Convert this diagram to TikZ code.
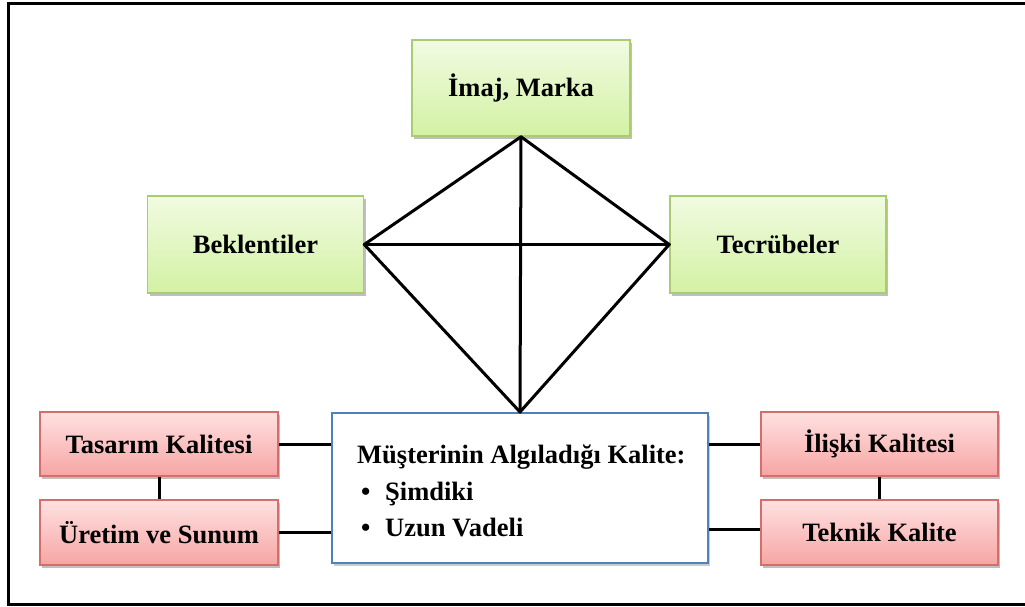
\documentclass[tikz,border=0pt]{standalone}
\usepackage{fontspec}
\setmainfont{Liberation Serif}
\usetikzlibrary{shadows}
\definecolor{greentop}{HTML}{F1FBE2}
\definecolor{greenbot}{HTML}{D3F1A3}
\definecolor{greenedge}{HTML}{A9CC72}
\definecolor{redtop}{HTML}{FFE1E1}
\definecolor{redbot}{HTML}{F6A5A4}
\definecolor{rededge}{HTML}{D26E6B}
\definecolor{blueedge}{HTML}{4F81BD}
\tikzset{
  boxtext/.style={font=\bfseries\fontsize{26.5}{30}\selectfont},
  greenbox/.style={boxtext, draw=greenedge, line width=1.5pt,
    top color=greentop, bottom color=greenbot,
    drop shadow={shadow xshift=2pt, shadow yshift=-3pt, opacity=0.25, fill=black}},
  redbox/.style={boxtext, draw=rededge, line width=1.5pt,
    top color=redtop, bottom color=redbot,
    drop shadow={shadow xshift=2pt, shadow yshift=-3pt, opacity=0.25, fill=black}},
  mainbox/.style={draw=blueedge, line width=2pt, fill=white,
    drop shadow={shadow xshift=2pt, shadow yshift=-3pt, opacity=0.2, fill=black}},
  link/.style={line width=3pt, line cap=round, line join=round},
}
\begin{document}
\begin{tikzpicture}[x=1pt, y=-1pt]
  \useasboundingbox (0,0) rectangle (1025,607);
  % outer frame, open on the right
  \draw[line width=3pt] (1040,4) -- (8,4) -- (8,604) -- (1040,604);

  % upper diamond nodes
  \node[greenbox, minimum width=218pt, minimum height=96pt] (imaj) at (521,88) {İmaj, Marka};
  \node[greenbox, minimum width=216pt, minimum height=97pt] (bek) at (255.5,244.5) {Beklentiler};
  \node[greenbox, minimum width=216pt, minimum height=97pt] (tec) at (778,244.5) {Tecrübeler};

  % central box
  \node[mainbox, minimum width=376pt, minimum height=150pt] (main) at (520,488) {};
  \node[font=\bfseries\fontsize{26.5}{36.5}\selectfont, align=left, anchor=north west, inner sep=0pt]
    (maintext) at (357,445) {Müşterinin Algıladığı Kalite:\\
      \hspace*{4pt}\makebox[24pt][l]{•}Şimdiki\\
      \hspace*{4pt}\makebox[24pt][l]{•}Uzun Vadeli};

  % side quality boxes
  \node[redbox, minimum width=238pt, minimum height=64pt] (tas) at (159,444) {Tasarım Kalitesi};
  \node[redbox, minimum width=238pt, minimum height=65pt] (ure) at (159,532.5) {Üretim ve Sunum};
  \node[redbox, minimum width=237pt, minimum height=64pt] (ili) at (879.5,444) {İlişki Kalitesi};
  \node[redbox, minimum width=237pt, minimum height=65pt] (tek) at (879.5,532.5) {Teknik Kalite};

  % diamond with its diagonals
  \draw[link] (bek.east) -- (imaj.south) -- (tec.west) -- (main.north) -- cycle;
  \draw[link] (imaj.south) -- (main.north);
  \draw[link] (bek.east) -- (tec.west);

  % connectors to the central box
  \draw[line width=3pt] (tas.east) -- (tas.east -| main.west);
  \draw[line width=3pt] (ure.east) -- (ure.east -| main.west);
  \draw[line width=3pt] (ili.west) -- (ili.west -| main.east);
  \draw[line width=3pt] ([yshift=3pt]tek.west) -- ([yshift=3pt]tek.west -| main.east);
  \draw[line width=3pt] (tas.south) -- (ure.north);
  \draw[line width=3pt] (ili.south) -- (tek.north);
\end{tikzpicture}
\end{document}
